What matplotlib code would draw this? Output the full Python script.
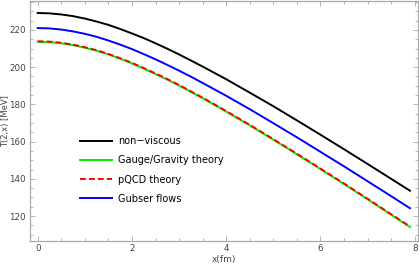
import numpy as np
import matplotlib
matplotlib.use("Agg")
import matplotlib.pyplot as plt
from matplotlib.ticker import MultipleLocator

# x positions (fm) and temperature profiles (MeV)
x = [0.0, 0.25, 0.5, 0.75, 1.0, 1.25, 1.5, 1.75, 2.0, 2.25, 2.5, 2.75, 3.0, 3.25, 3.5,
     4.0, 4.5, 5.0, 5.5, 6.0, 6.5, 7.0, 7.5, 7.9]
nonViscous = [229.1, 228.9, 228.3, 227.4, 226.1, 224.5, 222.7, 220.5, 218.1, 215.6,
              212.8, 209.9, 206.8, 203.6, 200.3,
              193.5, 186.3, 179.0, 171.4, 163.7, 155.9, 148.0, 140.0, 133.6]
gaugeGravity = [213.6, 213.4, 212.8, 211.8, 210.4, 208.8, 206.8, 204.5, 202.0, 199.2,
                196.3, 193.3, 190.1, 186.7, 183.3,
                176.1, 168.7, 161.0, 153.2, 145.2, 137.2, 129.0, 120.7, 114.1]
pQCD = [213.9, 213.7, 213.1, 212.1, 210.7, 209.1, 207.1, 204.8, 202.3, 199.5,
        196.6, 193.6, 190.4, 187.0, 183.6,
        176.4, 169.0, 161.3, 153.5, 145.5, 137.5, 129.3, 121.0, 114.4]
gubser = [221.0, 220.8, 220.2, 219.2, 217.9, 216.3, 214.3, 212.1, 209.7, 207.0,
          204.2, 201.2, 198.1, 194.9, 191.5,
          184.6, 177.4, 169.9, 162.3, 154.5, 146.7, 138.7, 130.7, 124.2]

xTicks = [0, 2, 4, 6, 8]
yTicks = [120, 140, 160, 180, 200, 220]

fig = plt.figure(figsize=(4.19, 2.66), dpi=100)
ax = fig.add_axes([0.0716, 0.094, 0.926, 0.902])

ax.plot(x, nonViscous, color='black', lw=1.4, label='non\u2212viscous')
ax.plot(x, gaugeGravity, color='#00ee00', lw=1.4, label='Gauge/Gravity theory')
ax.plot(x, pQCD, color='#ff0000', lw=1.4, dashes=(3, 1.6), label='pQCD theory')
ax.plot(x, gubser, color='#0000ff', lw=1.4, label='Gubser flows')

ax.set_xlim(-0.164, 8.07)
ax.set_ylim(106.6, 235.5)
ax.set_xticks(xTicks)
ax.set_yticks(yTicks)
ax.xaxis.set_minor_locator(MultipleLocator(0.5))
ax.yaxis.set_minor_locator(MultipleLocator(5))

frameColor = '#aaaaaa'
for s in ax.spines.values():
    s.set_color(frameColor)
    s.set_linewidth(0.9)
ax.tick_params(which='both', direction='in', top=True, right=True,
               color=frameColor, labelsize=6.3, labelcolor='#444444', width=0.6)
ax.tick_params(which='major', length=3.5)
ax.tick_params(which='minor', length=2)
ax.tick_params(axis='x', which='major', pad=2.5)
ax.tick_params(axis='y', which='major', pad=3)

ax.set_xlabel('x(fm)', fontsize=6.5, color='#444444', labelpad=1)
ax.set_ylabel('T(2,x) [MeV]', fontsize=6, color='#444444')
ax.yaxis.set_label_coords(-0.052, 0.5)

ax.legend(loc='upper left', bbox_to_anchor=(0.129, 0.437), frameon=False,
          fontsize=7, handlelength=3.3, handletextpad=0.6, labelspacing=0.95,
          borderpad=0, borderaxespad=0)

fig.savefig('out.png', dpi=100)
